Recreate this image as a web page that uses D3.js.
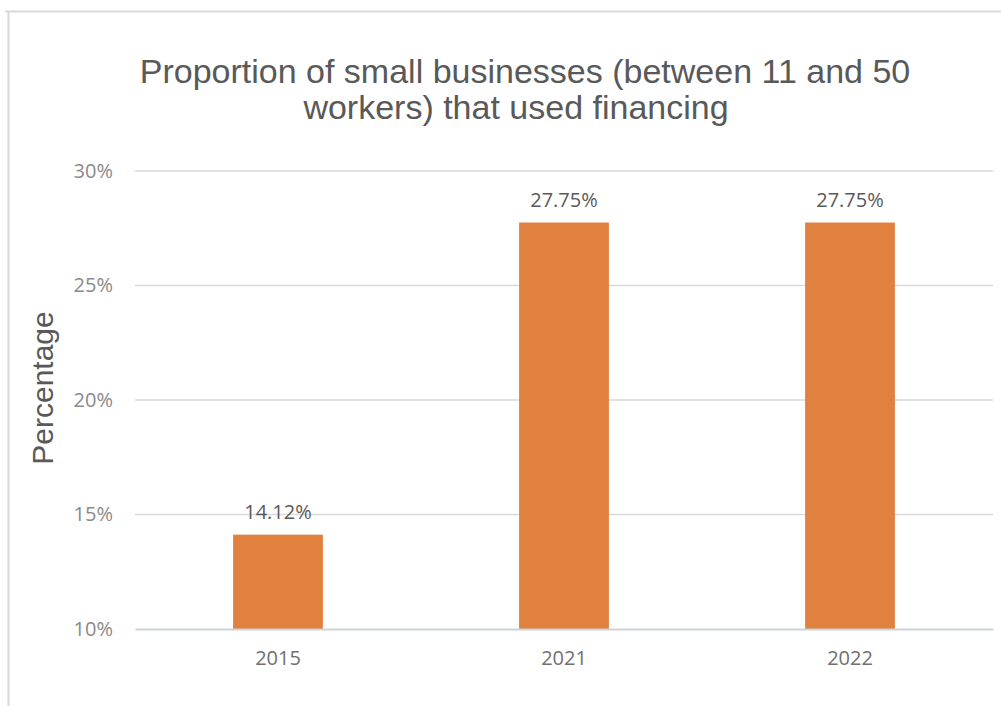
<!DOCTYPE html>
<html>
<head>
<meta charset="utf-8">
<script src="https://cdn.jsdelivr.net/npm/d3@7"></script>
<style>
  html, body { margin: 0; padding: 0; background: #fff; }
  svg { display: block; }
</style>
</head>
<body>
<svg id="chart" width="1001" height="706"></svg>
<script>
// Survey years and share of small firms (11–50 workers) using financing, in %
const years = ["2015", "2021", "2022"];
const shares = [14.12, 27.75, 27.75];
const yTicks = [10, 15, 20, 25, 30];

const titleLines = ["Proportion of small businesses (between 11 and 50", "workers) that used financing"];
const yTitle = "Percentage";

const svg = d3.select("#chart");
const W = 1001, H = 706;
const plot = { left: 135, right: 993, top: 171, bottom: 629 };

// chart frame (top and left edges)
svg.append("path")
  .attr("d", `M5,11.5H${W} M8.5,11V${H}`)
  .attr("fill", "none")
  .attr("stroke", "#d9d9d9")
  .attr("stroke-width", 2);

const x = d3.scaleBand().domain(years).range([plot.left, plot.right]).padding(0);
const y = d3.scaleLinear().domain([10, 30]).range([plot.bottom, plot.top]);
const barW = x.bandwidth() * 0.314;

// horizontal gridlines
svg.append("g").selectAll("line").data(yTicks.filter(t => t !== 10)).join("line")
  .attr("x1", plot.left).attr("x2", plot.right)
  .attr("y1", d => y(d)).attr("y2", d => y(d))
  .attr("stroke", "#d9d9d9").attr("stroke-width", 1.5);

// y tick labels
const yAxis = d3.axisLeft(y).tickValues(yTicks).tickFormat(d => d + "%").tickSize(0).tickPadding(22);
const gy = svg.append("g").attr("transform", `translate(${plot.left},0)`).call(yAxis);
gy.select(".domain").remove();
gy.selectAll("text")
  .attr("font-family", "'Open Sans', sans-serif")
  .attr("font-size", 20)
  .attr("fill", "#8a8a8a");

// bars
svg.append("g").selectAll("rect").data(shares).join("rect")
  .attr("x", (d, i) => x(years[i]) + x.bandwidth() / 2 - barW / 2)
  .attr("y", d => y(d))
  .attr("width", barW)
  .attr("height", d => y(10) - y(d))
  .attr("fill", "#e0813f");

// x axis baseline and labels
const xAxis = d3.axisBottom(x).tickSize(0).tickPadding(22);
const gx = svg.append("g").attr("transform", `translate(0,${plot.bottom})`).call(xAxis);
gx.select(".domain").attr("stroke", "#cdd3da").attr("stroke-width", 2);
gx.selectAll("text")
  .attr("font-family", "'Open Sans', sans-serif")
  .attr("font-size", 20)
  .attr("fill", "#707070");

// value labels above bars
svg.append("g").selectAll("text").data(shares).join("text")
  .attr("x", (d, i) => x(years[i]) + x.bandwidth() / 2)
  .attr("y", d => y(d) - 16)
  .attr("text-anchor", "middle")
  .attr("font-family", "'Open Sans', sans-serif")
  .attr("font-size", 20)
  .attr("fill", "#5a5a5a")
  .text(d => d.toFixed(2) + "%");

// title
const titleX = [525, 516];
svg.append("g").selectAll("text").data(titleLines).join("text")
  .attr("x", (d, i) => titleX[i])
  .attr("y", (d, i) => 83 + i * 36)
  .attr("text-anchor", "middle")
  .attr("font-family", "'Liberation Sans', Arial, sans-serif")
  .attr("font-size", 34)
  .attr("fill", "#595959")
  .text(d => d);

// y axis title
svg.append("text")
  .attr("transform", "translate(53,388) rotate(-90)")
  .attr("text-anchor", "middle")
  .attr("font-family", "'Liberation Sans', Arial, sans-serif")
  .attr("font-size", 30)
  .attr("fill", "#595959")
  .text(yTitle);
</script>
</body>
</html>
